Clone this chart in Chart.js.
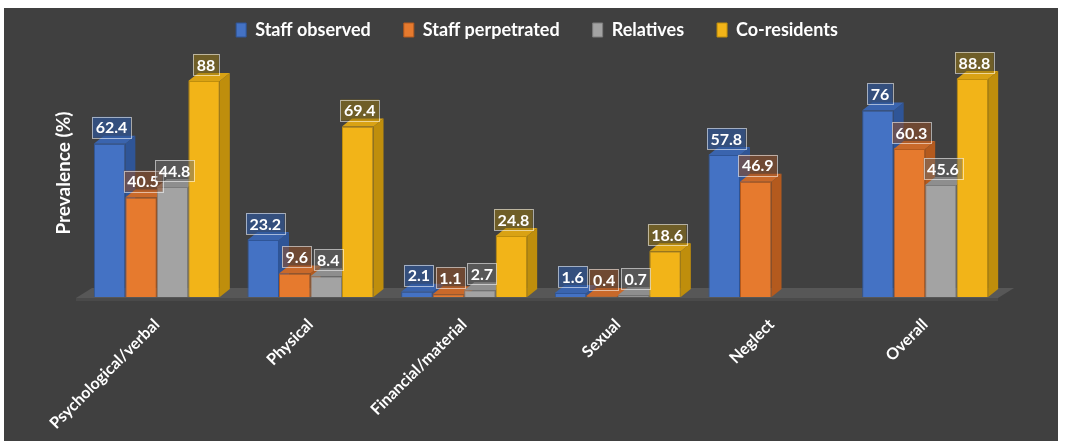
<!DOCTYPE html>
<html>
<head>
<meta charset="utf-8">
<script src="https://cdn.jsdelivr.net/npm/chart.js@4"></script>
<style>
  html, body { margin: 0; padding: 0; background: #fff; }
  #wrap { position: absolute; left: 4px; top: 8px; width: 1054px; height: 433px; background: #404040; }
</style>
</head>
<body>
<div id="wrap"><canvas id="chart"></canvas></div>
<script>
// ---------------- data ----------------
const categories = ["Psychological/verbal", "Physical", "Financial/material", "Sexual", "Neglect", "Overall"];
const seriesNames = ["Staff observed", "Staff perpetrated", "Relatives", "Co-residents"];
const staffObserved    = [62.4, 23.2, 2.1, 1.6, 57.8, 76];
const staffPerpetrated = [40.5, 9.6, 1.1, 0.4, 46.9, 60.3];
const relatives        = [44.8, 8.4, 2.7, 0.7, null, 45.6];
const coResidents      = [88, 69.4, 24.8, 18.6, null, 88.8];

// ---------------- styling ----------------
const frontCol = ["#4472C4", "#E67A2E", "#A3A3A3", "#F2B418"];
const sideCol  = ["#2F5597", "#B45A1E", "#7C7C7C", "#BF8E0C"];
const topCol   = ["#3A64AE", "#C9692A", "#8E8E8E", "#D9A214"];
const boxFill  = ["rgba(47,85,151,0.7)", "rgba(150,80,40,0.55)", "rgba(110,110,110,0.5)", "rgba(150,118,20,0.55)"];
const FONT = "Lato, 'Open Sans', sans-serif";
const DX = 10, DY = 8;

// 3D sides/tops and floor, value boxes
const bar3d = {
  id: "bar3d",
  beforeDatasetsDraw(chart) {
    const { ctx, chartArea: a } = chart;
    ctx.save();
    // floor slab
    ctx.fillStyle = "#575757";
    ctx.beginPath();
    ctx.moveTo(a.left - 4, a.bottom + 1);
    ctx.lineTo(a.right - 4, a.bottom + 1);
    ctx.lineTo(a.right + 12, a.bottom - 9);
    ctx.lineTo(a.left + 12, a.bottom - 9);
    ctx.closePath();
    ctx.fill();
    ctx.fillStyle = "#4a4a4a";
    ctx.fillRect(a.left - 4, a.bottom + 1, a.right - a.left, 3);

    // sides and tops, category by category in series order
    categories.forEach((c, i) => {
      chart.data.datasets.forEach((ds, d) => {
        if (ds.data[i] == null) return;
        const el = chart.getDatasetMeta(d).data[i];
        const { x, y, base, width } = el.getProps(["x", "y", "base", "width"], true);
        const l = x - width / 2, r = x + width / 2;
        ctx.fillStyle = sideCol[d];
        ctx.beginPath();
        ctx.moveTo(r, y);
        ctx.lineTo(r + DX, y - DY);
        ctx.lineTo(r + DX, base - DY);
        ctx.lineTo(r, base);
        ctx.closePath();
        ctx.fill();
        ctx.fillStyle = topCol[d];
        ctx.beginPath();
        ctx.moveTo(l, y);
        ctx.lineTo(l + DX, y - DY);
        ctx.lineTo(r + DX, y - DY);
        ctx.lineTo(r, y);
        ctx.closePath();
        ctx.fill();
      });
    });
    ctx.restore();
  },
  afterDatasetsDraw(chart) {
    const { ctx } = chart;
    ctx.save();
    ctx.font = "bold 16px " + FONT;
    ctx.textAlign = "center";
    ctx.textBaseline = "middle";
    chart.data.datasets.forEach((ds, d) => {
      chart.getDatasetMeta(d).data.forEach((el, i) => {
        const v = ds.data[i];
        if (v == null) return;
        const { x, y } = el.getProps(["x", "y"], true);
        const txt = String(v);
        const w = ctx.measureText(txt).width + 7, h = 21;
        const cx = x + 2, by = y - 6;
        ctx.fillStyle = boxFill[d];
        ctx.fillRect(cx - w / 2, by - h, w, h);
        ctx.strokeStyle = "rgba(255,255,255,0.55)";
        ctx.lineWidth = 1;
        ctx.strokeRect(Math.round(cx - w / 2) + 0.5, Math.round(by - h) + 0.5, Math.round(w), h);
        ctx.fillStyle = "#ffffff";
        ctx.fillText(txt, cx, by - h / 2 + 1);
      });
    });
    ctx.restore();
  }
};

const seriesData = [staffObserved, staffPerpetrated, relatives, coResidents];

new Chart(document.getElementById("chart"), {
  type: "bar",
  data: {
    labels: categories,
    datasets: seriesNames.map((name, d) => ({
      label: name,
      data: seriesData[d],
      backgroundColor: frontCol[d],
      borderColor: sideCol[d],
      borderWidth: 1,
      barPercentage: 1,
      categoryPercentage: 0.82
    }))
  },
  options: {
    responsive: true,
    maintainAspectRatio: false,
    animation: false,
    layout: { padding: { top: -20, left: 68, right: 56, bottom: 0 } },
    plugins: {
      tooltip: { enabled: false },
      legend: {
        position: "top",
        labels: {
          color: "#ffffff",
          font: { family: FONT, size: 18, weight: "bold" },
          boxWidth: 10,
          boxHeight: 14,
          padding: 33
        }
      }
    },
    scales: {
      x: {
        grid: { display: false },
        border: { display: false },
        ticks: {
          color: "#ffffff",
          font: { family: FONT, size: 16, weight: "bold" },
          maxRotation: 45,
          minRotation: 45,
          autoSkip: false,
          padding: 10
        },
        afterFit: s => { s.height = 144; }
      },
      y: {
        min: 0,
        max: 101,
        grid: { display: false },
        border: { display: false },
        ticks: { display: false },
        title: {
          display: true,
          text: "Prevalence (%)",
          color: "#ffffff",
          font: { family: FONT, size: 19, weight: "bold" },
          padding: { top: -20 }
        },
        afterFit: s => { s.width = 8; }
      }
    }
  },
  plugins: [bar3d]
});
</script>
</body>
</html>
